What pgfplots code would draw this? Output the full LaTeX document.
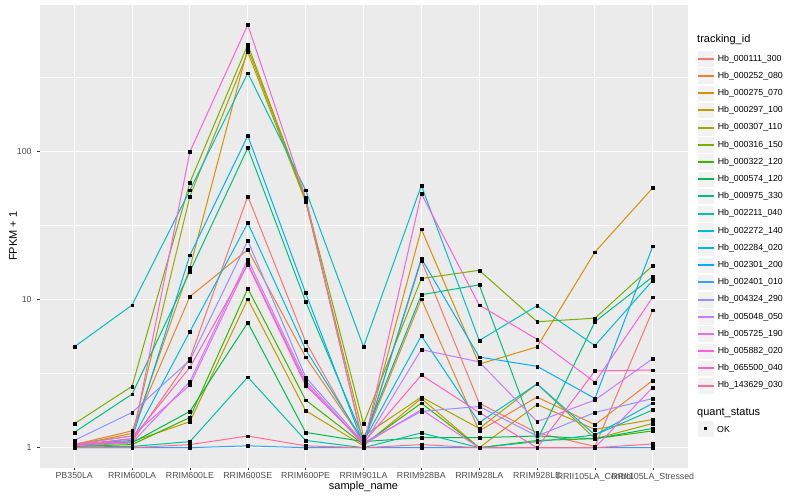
\documentclass[border=0pt]{standalone}
\usepackage{pgfplots}
\usepackage{pgfplotstable}
\pgfplotsset{compat=1.18}
\usepackage{fontspec}
\setmainfont{Liberation Sans}

\definecolor{panel}{HTML}{EBEBEB}
\definecolor{keygray}{HTML}{F2F2F2}
\definecolor{tickgray}{HTML}{4D4D4D}
\definecolor{tickline}{HTML}{333333}
\definecolor{c01}{HTML}{F8766D}
\definecolor{c02}{HTML}{EA8331}
\definecolor{c03}{HTML}{D89000}
\definecolor{c04}{HTML}{C09B00}
\definecolor{c05}{HTML}{A3A500}
\definecolor{c06}{HTML}{7CAE00}
\definecolor{c07}{HTML}{39B600}
\definecolor{c08}{HTML}{00BB4E}
\definecolor{c09}{HTML}{00BF7D}
\definecolor{c10}{HTML}{00C1A3}
\definecolor{c11}{HTML}{00BFC4}
\definecolor{c12}{HTML}{00BAE0}
\definecolor{c13}{HTML}{00B0F6}
\definecolor{c14}{HTML}{35A2FF}
\definecolor{c15}{HTML}{9590FF}
\definecolor{c16}{HTML}{C77CFF}
\definecolor{c17}{HTML}{E76BF3}
\definecolor{c18}{HTML}{FA62DB}
\definecolor{c19}{HTML}{FF62BC}
\definecolor{c20}{HTML}{FF6C91}

% FPKM + 1 per sample (rows) and tracking id (columns)
\pgfplotstableread{
x  s01  s02  s03  s04  s05  s06  s07  s08  s09  s10  s11  s12  s13  s14  s15  s16  s17  s18  s19  s20
0  1.03 1.05 1.04 1.02 1.06 1.45 1.02 1.03 1.27 1.01 4.8  1.05 1.04 1.0  1.12 1.03 1.05 1.06 1.04 1.0
1  1.10 1.30 1.25 1.10 1.20 2.6  1.05 1.08 2.3  1.02 9.2  1.12 1.15 1.0  1.73 1.08 1.20 1.10 1.15 1.0
2  4.0  10.5 16.5 1.5  50   62   1.6  1.76 15.5 1.1  55   6.1  20   1.0  3.9  2.8  2.65 100  3.5  1.05
3  50   21.8 500  10.1 470  527  11.9 7.0  106  3.0  340  33   128  1.03 25   18.7 17.6 720  17.3 1.2
4  5.2  4.1  47   1.78 46   48   2.1  1.27 9.7  1.12 55   4.6  11.1 1.0  3.0  2.85 2.73 49   2.64 1.03
5  1.05 1.1  1.05 1.03 1.2  1.45 1.05 1.1  1.15 1.0  4.8  1.1  1.05 1.0  1.08 1.05 1.05 1.02 1.08 1.0
6  18.4 10.1 30   2.15 2.2  13.9 2.0  1.17 10.8 1.26 59   5.7  19   1.0  1.76 4.6  1.81 52   3.1  1.05
7  2.0  1.3  3.67 1.0  1.35 15.8 1.0  1.17 12.6 1.0  5.3  1.48 4.1  1.0  1.9  3.8  1.0  9.2  1.73 1.0
8  1.26 2.2  4.8  1.96 2.7  7.1  1.12 1.2  1.12 1.1  9.1  2.7  3.55 1.0  1.2  1.5  1.0  5.4  1.0  1.0
9  1.02 1.43 21   1.33 1.15 7.5  1.15 1.15 7.1  1.22 4.9  1.22 2.15 1.0  1.73 2.1  1.0  2.77 3.3  1.0
10 8.5  2.85 57   1.55 1.46 17   1.3  1.35 14.3 1.8  13.5 2.0  23   1.0  2.15 4.0  2.56 10.4 3.35 1.06
}\fpkm

\newcommand\smallfont{\fontsize{8.8bp}{10bp}\selectfont}
\newcommand\titlefont{\fontsize{11bp}{13bp}\selectfont}
% legend key: grey95 box with a white border and the series line
\newcommand\keybox[1]{%
  \draw[white, fill=keygray, line width=0.5bp] (0bp,-8.35bp) rectangle (17.2bp,8.35bp);
  \draw[#1, line width=2bp] (0.8bp,0bp) -- (16.4bp,0bp);
  \path (20bp,0bp);}
\pgfplotsset{key/.style={color=#1, legend image code/.code={\keybox{#1}}}}

\begin{document}
\begin{tikzpicture}
\begin{axis}[
    set layers, mark layer=axis foreground,
    at={(39.5bp,32.3bp)}, anchor=south west,
    width=648bp, height=462.7bp, scale only axis,
    xmin=-0.6, xmax=10.6,
    ymode=log, ymin=0.733, ymax=979.5,
    axis background/.style={fill=panel},
    axis line style={draw=none},
    xtick={0,...,10},
    xticklabels={PB350LA,RRIM600LA,RRIM600LE,RRIM600SE,RRIM600PE,RRIM901LA,RRIM928BA,RRIM928LA,RRIM928LE,RRII105LA\_Control,RRII105LA\_Stressed},
    ytick={1,10,100}, yticklabels={1,10,100},
    minor ytick={3.1623,31.623,316.23},
    xmajorgrids, ymajorgrids, yminorgrids,
    major grid style={white, line width=1.07bp},
    minor grid style={white, line width=0.53bp},
    tick align=outside, tick pos=left,
    major tick length=2.75bp, minor tick length=0pt,
    major tick style={tickline, line width=0.53bp},
    ticklabel style={font=\smallfont, text=tickgray},
    xticklabel style={inner sep=0pt, yshift=-2.2bp},
    yticklabel style={inner sep=0pt, xshift=-5bp},
    xlabel={sample\_name}, ylabel={FPKM + 1},
    every axis x label/.style={at={(axis description cs:0.5,-0.0475)}, anchor=base, font=\titlefont},
    every axis y label/.style={at={(axis description cs:-0.0409,0.5)}, anchor=center, rotate=90, font=\titlefont},
    every axis plot/.append style={line width=1bp, mark=square*, mark size=1.4bp,
        mark options={draw=black, fill=black, line width=0.2bp}},
    legend style={at={(rel axis cs:1.0147,0.9024)}, anchor=north west, draw=none, fill=none,
        inner sep=0pt, outer sep=0pt, row sep=0pt, column sep=0pt,
        cells={anchor=west}, nodes={inner sep=0pt, font=\smallfont}},
]
\addplot[key=c01] table[x=x, y=s01] {\fpkm}; \addlegendentry{Hb\_000111\_300}
\addplot[key=c02] table[x=x, y=s02] {\fpkm}; \addlegendentry{Hb\_000252\_080}
\addplot[key=c03] table[x=x, y=s03] {\fpkm}; \addlegendentry{Hb\_000275\_070}
\addplot[key=c04] table[x=x, y=s04] {\fpkm}; \addlegendentry{Hb\_000297\_100}
\addplot[key=c05] table[x=x, y=s05] {\fpkm}; \addlegendentry{Hb\_000307\_110}
\addplot[key=c06] table[x=x, y=s06] {\fpkm}; \addlegendentry{Hb\_000316\_150}
\addplot[key=c07] table[x=x, y=s07] {\fpkm}; \addlegendentry{Hb\_000322\_120}
\addplot[key=c08] table[x=x, y=s08] {\fpkm}; \addlegendentry{Hb\_000574\_120}
\addplot[key=c09] table[x=x, y=s09] {\fpkm}; \addlegendentry{Hb\_000975\_330}
\addplot[key=c10] table[x=x, y=s10] {\fpkm}; \addlegendentry{Hb\_002211\_040}
\addplot[key=c11] table[x=x, y=s11] {\fpkm}; \addlegendentry{Hb\_002272\_140}
\addplot[key=c12] table[x=x, y=s12] {\fpkm}; \addlegendentry{Hb\_002284\_020}
\addplot[key=c13] table[x=x, y=s13] {\fpkm}; \addlegendentry{Hb\_002301\_200}
\addplot[key=c14] table[x=x, y=s14] {\fpkm}; \addlegendentry{Hb\_002401\_010}
\addplot[key=c15] table[x=x, y=s15] {\fpkm}; \addlegendentry{Hb\_004324\_290}
\addplot[key=c16] table[x=x, y=s16] {\fpkm}; \addlegendentry{Hb\_005048\_050}
\addplot[key=c17] table[x=x, y=s17] {\fpkm}; \addlegendentry{Hb\_005725\_190}
\addplot[key=c18] table[x=x, y=s18] {\fpkm}; \addlegendentry{Hb\_005882\_020}
\addplot[key=c19] table[x=x, y=s19] {\fpkm}; \addlegendentry{Hb\_065500\_040}
\addplot[key=c20] table[x=x, y=s20] {\fpkm}; \addlegendentry{Hb\_143629\_030}
\end{axis}
% legend titles and the quant_status key
\node[anchor=base west, inner sep=0pt, font=\titlefont] at (697bp,457bp) {tracking\_id};
\node[anchor=base west, inner sep=0pt, font=\titlefont] at (697bp,84bp) {quant\_status};
\draw[white, fill=keygray, line width=0.5bp] (697bp,62.65bp) rectangle (714.2bp,79.35bp);
\fill[black] (704.2bp,69.5bp) rectangle (707.2bp,72.5bp);
\node[anchor=west, inner sep=0pt, font=\smallfont] at (717bp,71bp) {OK};
\pgfresetboundingbox
\path[use as bounding box] (0,0) rectangle (800bp,500bp);
\end{tikzpicture}
\end{document}
